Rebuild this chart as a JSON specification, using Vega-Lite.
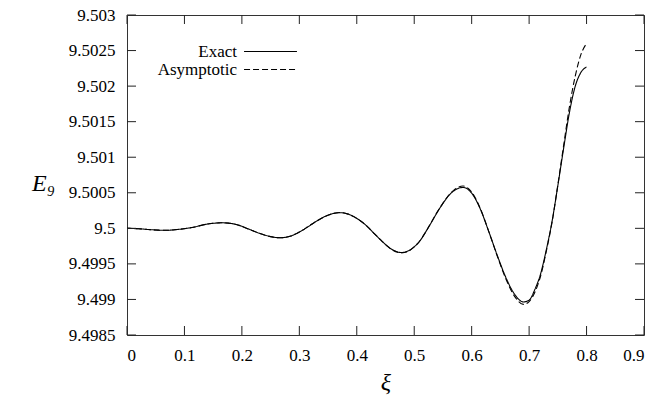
{
  "$schema": "https://vega.github.io/schema/vega-lite/v6.json",
  "autosize": {"type": "none"},
  "width": 517,
  "height": 320,
  "padding": {"left": 127, "top": 15, "right": 14, "bottom": 68},
  "config": {
    "view": {"stroke": "#333", "strokeWidth": 1},
    "axis": {"labelColor": "#000", "labelFont": "Liberation Serif", "labelFontSize": 17, "titleColor": "#000", "grid": false, "ticks": false, "domain": false},
    "legend": {"labelFont": "Liberation Serif", "labelFontSize": 17, "labelColor": "#000"}
  },
  "datasets": {
    "xticks": [
      {"xi": 0, "E": 9.4985}, {"xi": 0, "E": 9.503},
      {"xi": 0.1, "E": 9.4985}, {"xi": 0.1, "E": 9.503},
      {"xi": 0.2, "E": 9.4985}, {"xi": 0.2, "E": 9.503},
      {"xi": 0.3, "E": 9.4985}, {"xi": 0.3, "E": 9.503},
      {"xi": 0.4, "E": 9.4985}, {"xi": 0.4, "E": 9.503},
      {"xi": 0.5, "E": 9.4985}, {"xi": 0.5, "E": 9.503},
      {"xi": 0.6, "E": 9.4985}, {"xi": 0.6, "E": 9.503},
      {"xi": 0.7, "E": 9.4985}, {"xi": 0.7, "E": 9.503},
      {"xi": 0.8, "E": 9.4985}, {"xi": 0.8, "E": 9.503},
      {"xi": 0.9, "E": 9.4985}, {"xi": 0.9, "E": 9.503}
    ],
    "yticks": [
      {"E": 9.4985, "xi": 0}, {"E": 9.4985, "xi": 0.9},
      {"E": 9.499, "xi": 0}, {"E": 9.499, "xi": 0.9},
      {"E": 9.4995, "xi": 0}, {"E": 9.4995, "xi": 0.9},
      {"E": 9.5, "xi": 0}, {"E": 9.5, "xi": 0.9},
      {"E": 9.5005, "xi": 0}, {"E": 9.5005, "xi": 0.9},
      {"E": 9.501, "xi": 0}, {"E": 9.501, "xi": 0.9},
      {"E": 9.5015, "xi": 0}, {"E": 9.5015, "xi": 0.9},
      {"E": 9.502, "xi": 0}, {"E": 9.502, "xi": 0.9},
      {"E": 9.5025, "xi": 0}, {"E": 9.5025, "xi": 0.9},
      {"E": 9.503, "xi": 0}, {"E": 9.503, "xi": 0.9}
    ],
    "curves": [
      {"xi": 0.00, "E": 9.5, "series": "Exact"},
      {"xi": 0.02, "E": 9.499994, "series": "Exact"},
      {"xi": 0.04, "E": 9.499982, "series": "Exact"},
      {"xi": 0.067, "E": 9.499972, "series": "Exact"},
      {"xi": 0.09, "E": 9.499986, "series": "Exact"},
      {"xi": 0.113, "E": 9.500012, "series": "Exact"},
      {"xi": 0.14, "E": 9.50006, "series": "Exact"},
      {"xi": 0.165, "E": 9.500078, "series": "Exact"},
      {"xi": 0.19, "E": 9.500055, "series": "Exact"},
      {"xi": 0.21, "E": 9.499995, "series": "Exact"},
      {"xi": 0.23, "E": 9.499932, "series": "Exact"},
      {"xi": 0.25, "E": 9.499883, "series": "Exact"},
      {"xi": 0.267, "E": 9.499867, "series": "Exact"},
      {"xi": 0.285, "E": 9.499892, "series": "Exact"},
      {"xi": 0.30, "E": 9.499948, "series": "Exact"},
      {"xi": 0.315, "E": 9.500022, "series": "Exact"},
      {"xi": 0.33, "E": 9.500101, "series": "Exact"},
      {"xi": 0.345, "E": 9.500168, "series": "Exact"},
      {"xi": 0.36, "E": 9.50021, "series": "Exact"},
      {"xi": 0.371, "E": 9.50022, "series": "Exact"},
      {"xi": 0.385, "E": 9.5002, "series": "Exact"},
      {"xi": 0.40, "E": 9.50014, "series": "Exact"},
      {"xi": 0.415, "E": 9.50005, "series": "Exact"},
      {"xi": 0.43, "E": 9.49993, "series": "Exact"},
      {"xi": 0.445, "E": 9.49981, "series": "Exact"},
      {"xi": 0.46, "E": 9.49971, "series": "Exact"},
      {"xi": 0.478, "E": 9.49966, "series": "Exact"},
      {"xi": 0.49, "E": 9.499685, "series": "Exact"},
      {"xi": 0.50, "E": 9.49974, "series": "Exact"},
      {"xi": 0.51, "E": 9.499825, "series": "Exact"},
      {"xi": 0.52, "E": 9.49995, "series": "Exact"},
      {"xi": 0.53, "E": 9.500085, "series": "Exact"},
      {"xi": 0.54, "E": 9.500225, "series": "Exact"},
      {"xi": 0.55, "E": 9.50035, "series": "Exact"},
      {"xi": 0.56, "E": 9.50046, "series": "Exact"},
      {"xi": 0.57, "E": 9.500533, "series": "Exact"},
      {"xi": 0.585, "E": 9.500575, "series": "Exact"},
      {"xi": 0.60, "E": 9.500495, "series": "Exact"},
      {"xi": 0.615, "E": 9.500272, "series": "Exact"},
      {"xi": 0.63, "E": 9.49995, "series": "Exact"},
      {"xi": 0.645, "E": 9.49961, "series": "Exact"},
      {"xi": 0.66, "E": 9.4993, "series": "Exact"},
      {"xi": 0.675, "E": 9.49907, "series": "Exact"},
      {"xi": 0.69, "E": 9.498965, "series": "Exact"},
      {"xi": 0.70, "E": 9.49899, "series": "Exact"},
      {"xi": 0.71, "E": 9.49914, "series": "Exact"},
      {"xi": 0.72, "E": 9.49936, "series": "Exact"},
      {"xi": 0.73, "E": 9.4997, "series": "Exact"},
      {"xi": 0.74, "E": 9.5001, "series": "Exact"},
      {"xi": 0.75, "E": 9.5006, "series": "Exact"},
      {"xi": 0.76, "E": 9.50112, "series": "Exact"},
      {"xi": 0.77, "E": 9.50162, "series": "Exact"},
      {"xi": 0.78, "E": 9.50199, "series": "Exact"},
      {"xi": 0.79, "E": 9.50219, "series": "Exact"},
      {"xi": 0.80, "E": 9.50227, "series": "Exact"},
      {"xi": 0.00, "E": 9.5, "series": "Asymptotic"},
      {"xi": 0.02, "E": 9.499994, "series": "Asymptotic"},
      {"xi": 0.04, "E": 9.499982, "series": "Asymptotic"},
      {"xi": 0.067, "E": 9.499972, "series": "Asymptotic"},
      {"xi": 0.09, "E": 9.499986, "series": "Asymptotic"},
      {"xi": 0.113, "E": 9.500012, "series": "Asymptotic"},
      {"xi": 0.14, "E": 9.50006, "series": "Asymptotic"},
      {"xi": 0.165, "E": 9.500078, "series": "Asymptotic"},
      {"xi": 0.19, "E": 9.500055, "series": "Asymptotic"},
      {"xi": 0.21, "E": 9.499995, "series": "Asymptotic"},
      {"xi": 0.23, "E": 9.499932, "series": "Asymptotic"},
      {"xi": 0.25, "E": 9.499883, "series": "Asymptotic"},
      {"xi": 0.267, "E": 9.499867, "series": "Asymptotic"},
      {"xi": 0.285, "E": 9.499892, "series": "Asymptotic"},
      {"xi": 0.30, "E": 9.499948, "series": "Asymptotic"},
      {"xi": 0.315, "E": 9.500022, "series": "Asymptotic"},
      {"xi": 0.33, "E": 9.500101, "series": "Asymptotic"},
      {"xi": 0.345, "E": 9.500168, "series": "Asymptotic"},
      {"xi": 0.36, "E": 9.50021, "series": "Asymptotic"},
      {"xi": 0.371, "E": 9.500222, "series": "Asymptotic"},
      {"xi": 0.385, "E": 9.5002, "series": "Asymptotic"},
      {"xi": 0.40, "E": 9.50014, "series": "Asymptotic"},
      {"xi": 0.415, "E": 9.50005, "series": "Asymptotic"},
      {"xi": 0.43, "E": 9.49993, "series": "Asymptotic"},
      {"xi": 0.445, "E": 9.49981, "series": "Asymptotic"},
      {"xi": 0.46, "E": 9.499705, "series": "Asymptotic"},
      {"xi": 0.478, "E": 9.499655, "series": "Asymptotic"},
      {"xi": 0.49, "E": 9.49968, "series": "Asymptotic"},
      {"xi": 0.50, "E": 9.499738, "series": "Asymptotic"},
      {"xi": 0.51, "E": 9.499825, "series": "Asymptotic"},
      {"xi": 0.52, "E": 9.49995, "series": "Asymptotic"},
      {"xi": 0.53, "E": 9.500088, "series": "Asymptotic"},
      {"xi": 0.54, "E": 9.500228, "series": "Asymptotic"},
      {"xi": 0.55, "E": 9.500355, "series": "Asymptotic"},
      {"xi": 0.56, "E": 9.500465, "series": "Asymptotic"},
      {"xi": 0.57, "E": 9.500545, "series": "Asymptotic"},
      {"xi": 0.585, "E": 9.500595, "series": "Asymptotic"},
      {"xi": 0.60, "E": 9.50051, "series": "Asymptotic"},
      {"xi": 0.615, "E": 9.50028, "series": "Asymptotic"},
      {"xi": 0.63, "E": 9.49995, "series": "Asymptotic"},
      {"xi": 0.645, "E": 9.4996, "series": "Asymptotic"},
      {"xi": 0.66, "E": 9.49928, "series": "Asymptotic"},
      {"xi": 0.675, "E": 9.49904, "series": "Asymptotic"},
      {"xi": 0.69, "E": 9.49893, "series": "Asymptotic"},
      {"xi": 0.70, "E": 9.49897, "series": "Asymptotic"},
      {"xi": 0.71, "E": 9.4991, "series": "Asymptotic"},
      {"xi": 0.72, "E": 9.49933, "series": "Asymptotic"},
      {"xi": 0.73, "E": 9.49968, "series": "Asymptotic"},
      {"xi": 0.74, "E": 9.50009, "series": "Asymptotic"},
      {"xi": 0.75, "E": 9.50061, "series": "Asymptotic"},
      {"xi": 0.76, "E": 9.50116, "series": "Asymptotic"},
      {"xi": 0.77, "E": 9.5017, "series": "Asymptotic"},
      {"xi": 0.78, "E": 9.50213, "series": "Asymptotic"},
      {"xi": 0.79, "E": 9.50244, "series": "Asymptotic"},
      {"xi": 0.80, "E": 9.5026, "series": "Asymptotic"}
    ]
  },
  "encoding": {
    "x": {"field": "xi", "type": "quantitative",
      "scale": {"domain": [0, 0.9], "nice": false, "zero": false},
      "axis": {"orient": "bottom", "values": [0, 0.1, 0.2, 0.3, 0.4, 0.5, 0.6, 0.7, 0.8, 0.9], "format": ".1~f", "labelPadding": 12, "title": "ξ", "titleFont": "Liberation Serif", "titleFontStyle": "italic", "titleFontWeight": "normal", "titleFontSize": 24, "titleBaseline": "alphabetic", "titleY": 54}},
    "y": {"field": "E", "type": "quantitative",
      "scale": {"domain": [9.4985, 9.503], "nice": false, "zero": false},
      "axis": {"orient": "left", "values": [9.4985, 9.499, 9.4995, 9.5, 9.5005, 9.501, 9.5015, 9.502, 9.5025, 9.503], "format": ".5~f", "labelPadding": 12, "title": "E₉", "titleAngle": 0, "titleFont": "Liberation Serif", "titleFontStyle": "italic", "titleFontWeight": "normal", "titleFontSize": 24, "titleX": -84, "titleY": 168, "titleBaseline": "middle", "titleAlign": "center"}}
  },
  "layer": [
    {
      "data": {"name": "curves"},
      "mark": {"type": "line", "interpolate": "monotone", "color": "#000", "strokeWidth": 1.1},
      "encoding": {
        "strokeDash": {"field": "series", "type": "nominal",
          "scale": {"domain": ["Exact", "Asymptotic"], "range": [[1, 0], [6, 3]]},
          "legend": {"title": null, "orient": "none", "legendX": 135, "legendY": 28, "symbolType": "M-5,0H5", "symbolSize": 112, "symbolStrokeColor": "#000", "symbolStrokeWidth": 1.1, "symbolFillColor": "transparent", "labelAlign": "right", "labelOffset": -42, "rowPadding": 0, "padding": 0}}
      }
    },
    {
      "data": {"name": "xticks"},
      "mark": {"type": "line", "color": "#222", "strokeWidth": 1, "strokeDash": [9, 302, 9, 700]},
      "encoding": {"detail": {"field": "xi", "type": "nominal"}}
    },
    {
      "data": {"name": "yticks"},
      "mark": {"type": "line", "color": "#222", "strokeWidth": 1, "strokeDash": [9, 499, 9, 900]},
      "encoding": {"detail": {"field": "E", "type": "nominal"}}
    }
  ]
}
